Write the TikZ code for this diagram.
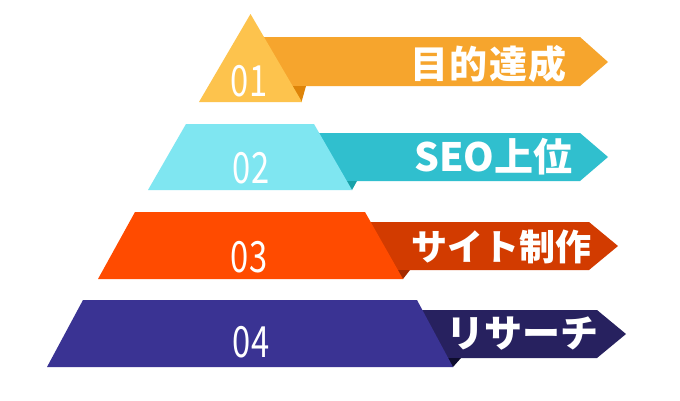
\documentclass[tikz,border=0pt]{standalone}
\usepackage{fontspec}
\newfontfamily\jp{Noto Sans CJK JP}
\newfontfamily\numfont{Noto Sans CJK JP}[FakeStretch=0.76]
\definecolor{aTri}{HTML}{FDC34D}
\definecolor{aBan}{HTML}{F6A52D}
\definecolor{aFold}{HTML}{DE8409}
\definecolor{bTri}{HTML}{7FE6F1}
\definecolor{bBan}{HTML}{30BFCE}
\definecolor{bFold}{HTML}{18A2A9}
\definecolor{cTri}{HTML}{FF4B00}
\definecolor{cBan}{HTML}{D23B00}
\definecolor{cFold}{HTML}{A32A00}
\definecolor{dTri}{HTML}{3A3393}
\definecolor{dBan}{HTML}{27215F}
\definecolor{dFold}{HTML}{0E0C2E}
\tikzset{
  lbl/.style={text=white, inner sep=0pt, anchor=center, font=\jp\bfseries\fontsize{38}{40}\selectfont},
  num/.style={text=white, inner sep=0pt, anchor=center, font=\numfont\fontsize{43}{45}\selectfont}
}
\begin{document}
\begin{tikzpicture}[x=1pt,y=-1pt]
\useasboundingbox (0,0) rectangle (680,400);
\fill[white] (0,0) rectangle (680,400);
% level 1
\fill[aBan] (250,37) -- (580,37) -- (608,62) -- (580,86) -- (250,86) -- cycle;
\fill[aFold] (285,86) -- (306,86) -- (301.5,102) -- cycle;
\fill[aTri] (250.5,14) -- (302,102) -- (199,102) -- cycle;
% level 2
\fill[bBan] (300,133) -- (580,133) -- (608,157) -- (580,181) -- (300,181) -- cycle;
\fill[bFold] (340,181) -- (357,181) -- (352,190) -- cycle;
\fill[bTri] (186,124) -- (314,124) -- (352,190) -- (148,190) -- cycle;
% level 3
\fill[cBan] (350,222) -- (589,222) -- (618,246) -- (589,270) -- (350,270) -- cycle;
\fill[cFold] (380,270) -- (410,270) -- (403,279) -- cycle;
\fill[cTri] (135,212) -- (365,212) -- (403,279) -- (98,279) -- cycle;
% level 4
\fill[dBan] (400,310) -- (597,310) -- (626,334) -- (597,358) -- (400,358) -- cycle;
\fill[dFold] (430,358) -- (461,358) -- (453,367) -- cycle;
\fill[dTri] (83,300) -- (417,300) -- (453,367) -- (47,367) -- cycle;
% numbers
\node[num] (n1) at (249,81.5) {01};
\node[num] (n2) at (251,168) {02};
\node[num] (n3) at (249,257) {03};
\node[num] (n4) at (251,342) {04};
% labels
\node[lbl] (t1) at (488.5,64) {\addfontfeature{LetterSpace=4}目的達成};
\node[lbl, font=\jp\bfseries\fontsize{39}{41}\selectfont] (t2) at (493.5,157) {SEO上位};
\node[lbl, font=\jp\bfseries\fontsize{36}{38}\selectfont] (t3) at (501.5,247) {サイト制作};
\node[lbl] (t4) at (522.5,334) {リサーチ};
\end{tikzpicture}
\end{document}
